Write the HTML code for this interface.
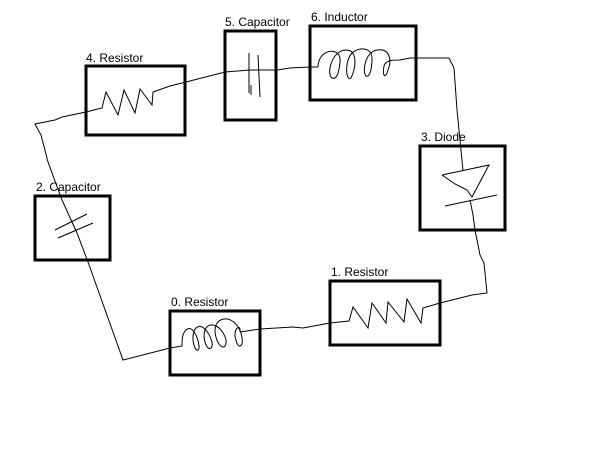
<!DOCTYPE html>
<html><head><style>
html,body{margin:0;padding:0;background:#fff;}
svg{display:block;}
text{font-family:"Liberation Sans",sans-serif;font-size:12px;fill:#000;}
</style></head><body>
<svg width="600" height="450" viewBox="0 0 600 450" xmlns="http://www.w3.org/2000/svg">
<g fill="none" stroke="#000" stroke-width="3">
<rect x="86" y="66" width="99" height="69"/>
<rect x="225" y="31" width="51" height="89"/>
<rect x="310" y="26" width="106" height="74"/>
<rect x="420" y="146" width="85" height="84"/>
<rect x="35" y="196" width="75" height="64"/>
<rect x="170" y="311" width="90" height="64"/>
<rect x="330" y="281" width="110" height="64"/>
</g>
<g fill="none" stroke="#000" stroke-width="1">
<!-- left wire + resistor 4 -->
<path d="M88,262 L77,233 L62,200 L48,162 L41,135 L35,124 L55,120 L62,117 L86,112 L102,108 L106,92 L118,115 L124,90 L135,113 L140,89 L152,105 L153,92 L170,86 L186,82 L225,72 L250,70 L277,70 L290,68 L310,67 L318,67"/>
<!-- capacitor 5 plates -->
<path d="M249,53 L249,93 M251,85 L251,95 M258,55 L260,97"/>
<!-- inductor 6 -->
<path d="M318,67 C318,48 342,46 340,62 C339,74 336,80 332,78 C326,74 332,50 346,50 C358,50 356,68 351,78 C346,82 344,62 352,53 C360,46 372,48 372,58 C372,68 370,78 366,76 C362,72 365,52 377,50 C390,48 392,60 388,70 C386,78 382,78 384,66 C386,60 392,60 400,60 L410,58 L449,58"/>
<!-- wire to diode -->
<path d="M449,58 L454,68 L457,110 L461,150 L463,171"/>
<!-- diode -->
<path d="M442,175 L489,165 L472,197 L467,190 L455,184 L442,175 M445,206 L497,195 M470,200 L473,215 L475,230"/>
<!-- right wire -->
<path d="M475,230 L480,255 L484,263 L487,293 L472,295 L440,303 L423,308 L421,323 L407,299 L404,322 L388,302 L386,323 L372,303 L368,328 L353,307 L349,321 L330,323 L303,328 L293,327 L260,329 L240,332"/>
<!-- inductor 0 -->
<path d="M240,332 C241,322 232,330 236,340 C238,350 244,346 242,338 C240,322 226,314 218,322 C210,330 220,352 225,346 C230,340 218,320 208,326 C200,332 206,352 211,348 C216,344 204,320 196,328 C190,334 194,352 198,350 C202,348 194,322 186,330 C182,334 182,340 182,346 L170,348 L123,360 L88,262"/>
<!-- capacitor 2 plates -->
<path d="M55,230 L87,214 M58,238 L93,223"/>
</g>
<text x="86" y="62">4. Resistor</text>
<text x="225" y="26">5. Capacitor</text>
<text x="311" y="21">6. Inductor</text>
<text x="421" y="141">3. Diode</text>
<text x="36" y="191">2. Capacitor</text>
<text x="171" y="306">0. Resistor</text>
<text x="331" y="276">1. Resistor</text>
</svg>
</body></html>
